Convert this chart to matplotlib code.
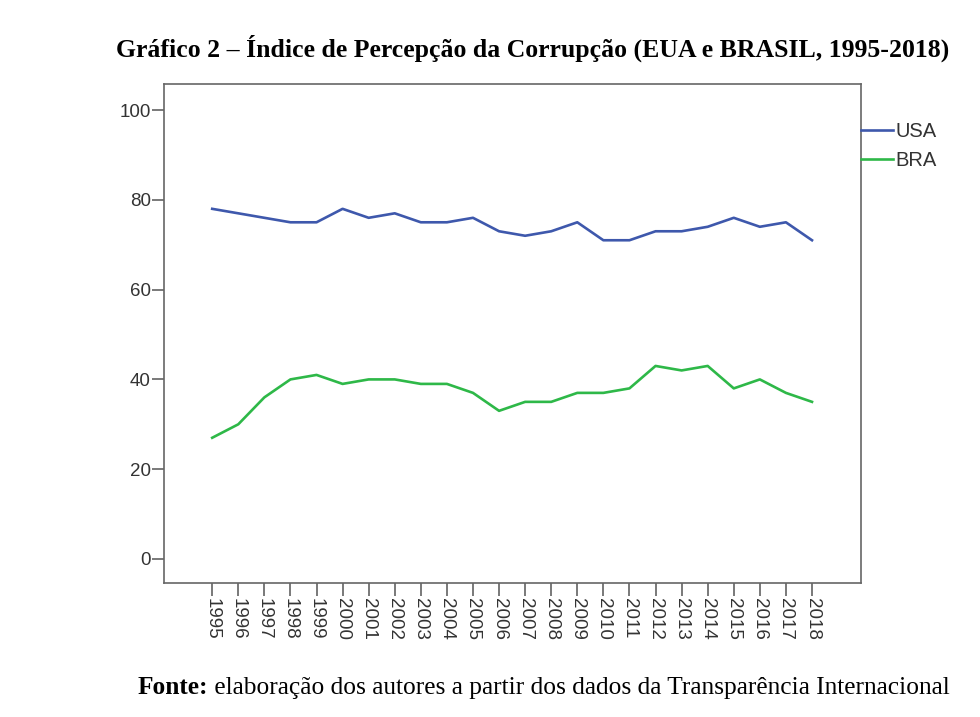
import matplotlib
matplotlib.use("Agg")
import matplotlib.pyplot as plt

# Índice de Percepção da Corrupção, 1995-2018
years = [str(y) for y in range(1995, 2019)]
usa = [78, 77, 76, 75, 75, 78, 76, 77, 75, 75, 76, 73, 72, 73, 75, 71, 71, 73, 73, 74, 76, 74, 75, 71]
bra = [27, 30, 36, 40, 41, 39, 40, 40, 39, 39, 37, 33, 35, 35, 37, 37, 38, 43, 42, 43, 38, 40, 37, 35]
yticks = [0, 20, 40, 60, 80, 100]

title = "Gráfico 2 – Índice de Percepção da Corrupção (EUA e BRASIL, 1995-2018)"
fonte_bold = "Fonte:"
fonte_rest = " elaboração dos autores a partir dos dados da Transparência Internacional"

plt.rcParams['font.family'] = ['Liberation Sans', 'DejaVu Sans']

fig = plt.figure(figsize=(9.8, 7.17), dpi=100)
ax = fig.add_axes([0.1673, 0.1869, 0.7113, 0.6959])

x = list(range(len(years)))
ax.plot(x, usa, color='#3E58AC', lw=1.9, label='USA')
ax.plot(x, bra, color='#2EB848', lw=1.9, label='BRA')

ax.set_xlim(-1.85, len(years) - 1 + 1.88)
ax.set_ylim(-5.35, 105.8)
ax.set_xticks(x)
ax.set_xticklabels(years, rotation=-90, fontsize=13.5, color='#333333')
ax.set_yticks(yticks)
ax.set_yticklabels([str(v) for v in yticks], fontsize=13.5, color='#333333')
ax.tick_params(axis='x', direction='out', length=9.5, width=1.1, color='#555555', pad=1)
ax.tick_params(axis='y', direction='out', length=9, width=1.1, color='#555555', pad=0.5)
for s in ax.spines.values():
    s.set_color('#666666')
    s.set_linewidth(1.2)

leg = ax.legend(loc='center left', bbox_to_anchor=(1.0, 0.875), frameon=False,
                borderaxespad=0, borderpad=0, handlelength=1.6, handletextpad=0.1,
                labelspacing=0.5, fontsize=14.5)
for t in leg.get_texts():
    t.set_color('#333333')

fig.text(0.543, 0.932, title, ha='center', va='center', fontsize=18.5,
         fontweight='bold', family='Liberation Serif')

t1 = fig.text(0.140, 0.041, fonte_bold, ha='left', va='center', fontsize=18.3,
              fontweight='bold', family='Liberation Serif')
fig.canvas.draw()
bb = t1.get_window_extent()
fig.text(bb.x1 / fig.bbox.width, 0.041, fonte_rest, ha='left', va='center',
         fontsize=18.3, family='Liberation Serif')

fig.savefig('out.png', dpi=100)
